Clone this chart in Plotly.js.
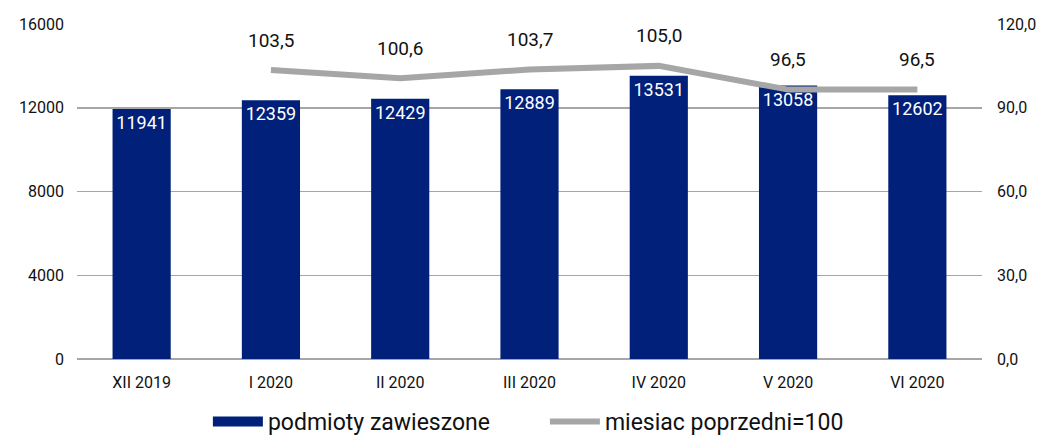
<!DOCTYPE html>
<html><head><meta charset="utf-8">
<script src="https://cdn.plot.ly/plotly-3.0.1.min.js"></script>
<style>body{margin:0;background:#fff}#c{width:1043px;height:443px}</style>
</head><body><div id="c"></div>
<script>
const categories = ["XII 2019","I 2020","II 2020","III 2020","IV 2020","V 2020","VI 2020"];
const suspended = [11941,12359,12429,12889,13531,13058,12602];
const lineCats = ["I 2020","II 2020","III 2020","IV 2020","V 2020","VI 2020"];
const prevMonth = [103.5,100.6,103.7,105.0,96.5,96.5];
const fmt = v => v.toFixed(1).replace('.', ',');
const FONT = 'Roboto, "Noto Sans", sans-serif';
const NAVY = '#00207a';

const bars = {
  type:'bar', x:categories, y:suspended, name:'podmioty zawieszone',
  marker:{color:NAVY}, showlegend:false,
  text:suspended.map(String), textposition:'inside', insidetextanchor:'end',
  textangle:0, constraintext:'none',
  textfont:{color:'#ffffff', size:18, family:FONT},
  hoverinfo:'x+y'
};
// legend swatch for bars (wide rectangle like the original)
const barLegend = {
  type:'scatter', mode:'lines', x:[null], y:[null], name:'podmioty zawieszone',
  line:{color:NAVY, width:15}, hoverinfo:'skip'
};
const line = {
  type:'scatter', mode:'lines', x:lineCats, y:prevMonth, yaxis:'y2',
  name:'miesiac poprzedni=100',
  line:{color:'#a6a6a6', width:6},
  cliponaxis:false
};
const annotations = lineCats.map((c,i)=>({
  x:c, y:prevMonth[i], xref:'x', yref:'y2', text:fmt(prevMonth[i]),
  showarrow:false, yshift:30, font:{size:19, color:'#111', family:FONT}
}));
const layout = {
  width:1043, height:443,
  margin:{l:77, r:61, t:24, b:84},
  paper_bgcolor:'#fff', plot_bgcolor:'#fff',
  font:{family:FONT, color:'#111', size:15},
  bargap:0.55,
  showlegend:true,
  legend:{orientation:'h', x:0.517, xanchor:'center', yref:'container', y:0, yanchor:'bottom',
          font:{size:23, color:'#111'}, itemwidth:50, tracegroupgap:0, entrywidth:272},
  xaxis:{type:'category', categoryorder:'array', categoryarray:categories,
         showgrid:false, showline:false, ticks:'', tickfont:{size:16}, zeroline:false,
         ticklabelstandoff:12},
  yaxis:{range:[0,16000], tickvals:[0,4000,8000,12000,16000], ticktext:['0','4000','8000','12000','16000'],
         showgrid:true, gridcolor:'#a6a6a6', gridwidth:1.5, zeroline:true, zerolinecolor:'#a6a6a6', zerolinewidth:1.5,
         showline:false, ticks:'', tickfont:{size:16}, ticklabelstandoff:12},
  yaxis2:{overlaying:'y', side:'right', range:[0,120], tickvals:[0,30,60,90,120],
          ticktext:['0,0','30,0','60,0','90,0','120,0'], showgrid:false, zeroline:false,
          showline:false, ticks:'', tickfont:{size:16}, ticklabelstandoff:14},
  annotations:annotations
};
Plotly.newPlot('c',[bars,barLegend,line],layout,{displayModeBar:false,staticPlot:true});
</script></body></html>
